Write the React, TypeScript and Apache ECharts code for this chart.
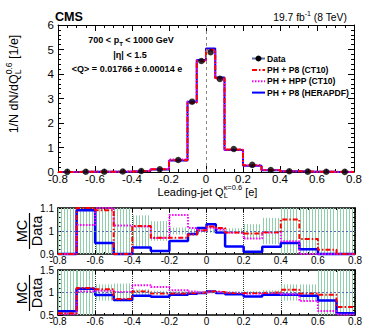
import { useEffect, useRef } from 'react';
import * as echarts from 'echarts';

// ---------- data ----------
const binEdges = [-0.8, -0.7, -0.6, -0.5, -0.4, -0.3, -0.2, -0.1, -0.05, 0, 0.05, 0.1, 0.2, 0.3, 0.4, 0.5, 0.6, 0.7, 0.8];
const dataValues = [0.006, 0.01, 0.012, 0.02, 0.04, 0.11, 0.49, 2.87, 4.53, 4.89, 3.8, 0.94, 0.29, 0.08, 0.03, 0.015, 0.01, 0.006];
const mainCT10 = [0.004, 0.011, 0.012, 0.018, 0.041, 0.108, 0.48, 2.83, 4.52, 4.99, 3.84, 0.92, 0.28, 0.08, 0.031, 0.014, 0.008, 0.005];
const mainHPP = [0.003, 0.011, 0.013, 0.019, 0.045, 0.12, 0.51, 2.88, 4.55, 4.93, 3.8, 0.91, 0.27, 0.079, 0.029, 0.011, 0.005, 0.003];
const mainHERA = [0.005, 0.011, 0.011, 0.018, 0.038, 0.1, 0.47, 2.87, 4.57, 5.04, 3.86, 0.9, 0.26, 0.076, 0.028, 0.013, 0.008, 0.004];

const r1CT10 = [0.9, 1.1, 1.09, 0.9, 1.022, 0.971, 0.971, 0.985, 1.003, 1.02, 1.013, 0.993, 0.989, 0.995, 1.05, 0.965, 0.918, 0.9];
const r1HPP = [0.9, 1.026, 1.1, 1.024, 1.02, 0.97, 1.07, 1.013, 1.0, 1.014, 1.006, 0.993, 0.967, 0.993, 0.955, 0.9, 0.9, 0.9];
const r1HERA = [0.9, 1.09, 0.948, 0.9, 0.928, 0.913, 0.957, 0.987, 1.013, 1.029, 0.993, 0.933, 0.91, 0.932, 0.948, 0.921, 0.9, 0.9];
const r1DataErr = [1, 1, 1, 1, 0.068, 0.043, 0.015, 0.01, 0.008, 0.008, 0.01, 0.012, 0.03, 0.057, 1, 1, 1, 1];

const r2CT10 = [0.54, 1.1, 1.07, 0.857, 1.02, 0.98, 0.98, 0.99, 1.0, 1.02, 1.01, 0.99, 0.99, 1.0, 1.06, 0.98, 0.95, 0.68];
const r2HPP = [0.52, 1.02, 1.04, 1.01, 1.16, 1.12, 1.05, 1.02, 1.0, 1.01, 1.0, 0.99, 0.97, 0.99, 0.96, 0.81, 0.59, 0.51];
const r2HERA = [0.586, 1.086, 0.943, 0.836, 0.929, 0.907, 0.95, 0.97, 0.99, 1.02, 0.99, 0.96, 0.91, 0.95, 0.95, 0.93, 0.82, 0.54];
const r2DataErr = [1, 1, 0.18, 0.2, 0.07, 0.04, 0.03, 0.02, 0.015, 0.015, 0.02, 0.025, 0.03, 0.05, 0.18, 0.18, 1, 1];

const legendLabels = ['Data', 'PH + P8 (CT10)', 'PH + HPP (CT10)', 'PH + P8 (HERAPDF)'];

// ---------- helpers ----------
const FONT = '"Liberation Sans", Arial, Helvetica, sans-serif';
const BLUE = '#0000ff';
const RED = '#ff0000';
const MAG = '#ff00ff';
const HATCH = '#8fcfa9';

let ctx: CanvasRenderingContext2D | null = null;
const measure = (t: string, size: number, weight: string) => {
  if (!ctx) ctx = document.createElement('canvas').getContext('2d');
  ctx!.font = `${weight} ${size}px ${FONT}`;
  return ctx!.measureText(t).width;
};

type Seg = string | { sup?: string; sub?: string };
function textRun(segs: Seg[], size: number, weight: string, anchorX: number, y: number, align: 'left' | 'center' | 'right', fill = '#000') {
  const items: { t: string; x: number; dy: number; size: number }[] = [];
  let cx = 0;
  for (const s of segs) {
    if (typeof s === 'string') {
      items.push({ t: s, x: cx, dy: 0, size });
      cx += measure(s, size, weight);
    } else {
      const small = size * 0.68;
      let w = 0;
      if (s.sup) {
        items.push({ t: s.sup, x: cx, dy: -size * 0.38, size: small });
        w = Math.max(w, measure(s.sup, small, weight));
      }
      if (s.sub) {
        items.push({ t: s.sub, x: cx, dy: size * 0.34, size: small });
        w = Math.max(w, measure(s.sub, small, weight));
      }
      cx += w;
    }
  }
  const off = align === 'left' ? anchorX : align === 'center' ? anchorX - cx / 2 : anchorX - cx;
  return items.map((it) => ({
    type: 'text',
    x: off + it.x,
    y: y + it.dy,
    silent: true,
    style: { text: it.t, fill, font: `${weight} ${it.size}px ${FONT}`, textAlign: 'left', textVerticalAlign: 'middle' },
  }));
}

const stepPoints = (vals: number[]) => {
  const pts: number[][] = [];
  vals.forEach((v, i) => {
    pts.push([binEdges[i], v]);
    pts.push([binEdges[i + 1], v]);
  });
  return pts;
};
const centers = binEdges.slice(0, -1).map((e, i) => (e + binEdges[i + 1]) / 2);

function histo(g: number, vals: number[], color: string, width: number, type: any, z: number, extra: any = {}) {
  return {
    type: 'line',
    xAxisIndex: 2 * g,
    yAxisIndex: 2 * g,
    data: stepPoints(vals),
    showSymbol: false,
    symbol: 'none',
    clip: false,
    silent: true,
    z,
    lineStyle: { color, width, type },
    ...extra,
  };
}

function band(g: number, errs: number[]) {
  return {
    type: 'custom',
    xAxisIndex: 2 * g,
    yAxisIndex: 2 * g,
    silent: true,
    z: 1,
    data: errs.map((h, i) => [binEdges[i], binEdges[i + 1], 1 - h, 1 + h]),
    renderItem: (params: any, api: any) => {
      const cs = params.coordSys;
      const p0 = api.coord([api.value(0), api.value(3)]);
      const p1 = api.coord([api.value(1), api.value(2)]);
      const top = Math.max(Math.min(p0[1], p1[1]), cs.y);
      const bot = Math.min(Math.max(p0[1], p1[1]), cs.y + cs.height);
      const children: any[] = [];
      for (let x = Math.ceil(p0[0]) + 0.5; x < p1[0]; x += 3) {
        children.push({ type: 'line', shape: { x1: x, y1: top, x2: x, y2: bot }, style: { stroke: HATCH, lineWidth: 1 } });
      }
      return { type: 'group', children };
    },
  };
}

const fmtX = (v: number) => (Math.abs(v) < 1e-9 ? '0' : (Math.round(v * 10) / 10).toString());

function xAxesFor(g: number, fontSize: number, tickLen: number, split: boolean, lineW: number) {
  const common = {
    type: 'value',
    gridIndex: g,
    min: -0.8,
    max: 0.8,
    interval: 0.2,
    axisLine: { show: true, onZero: false, lineStyle: { color: '#000', width: lineW } },
    axisTick: { show: true, inside: true, length: tickLen, lineStyle: { color: '#000' } },
    minorTick: { show: true, splitNumber: 4, length: tickLen / 2, lineStyle: { color: '#000' } },
  };
  return [
    {
      ...common,
      position: 'bottom',
      axisLabel: { show: true, margin: 1, fontSize, color: '#000', fontFamily: FONT, formatter: fmtX },
      splitLine: split ? { show: true, lineStyle: { type: 'dotted', color: '#333', width: 1 } } : { show: false },
    },
    { ...common, position: 'top', axisLabel: { show: false }, splitLine: { show: false } },
  ];
}

function yAxesFor(g: number, min: number, max: number, interval: number, minorSplit: number, fontSize: number, tickLen: number, lineW: number, fmt: (v: number) => string) {
  const common = {
    type: 'value',
    gridIndex: g,
    min,
    max,
    interval,
    axisLine: { show: true, onZero: false, lineStyle: { color: '#000', width: lineW } },
    axisTick: { show: true, inside: true, length: tickLen, lineStyle: { color: '#000' } },
    minorTick: { show: true, splitNumber: minorSplit, length: tickLen / 2, lineStyle: { color: '#000' } },
    splitLine: { show: false },
  };
  return [
    { ...common, position: 'left', axisLabel: { show: true, margin: 4, fontSize, color: '#000', fontFamily: FONT, formatter: fmt } },
    { ...common, position: 'right', axisLabel: { show: false } },
  ];
}

// rotated "MC / Data" fraction used as the ratio panels' y title (ROOT style)
function fraction(cy: number) {
  const f = `normal 14.5px ${FONT}`;
  return [
    { type: 'text', x: 22, y: cy, rotation: Math.PI / 2, silent: true, style: { text: 'MC', fill: '#000', font: f, textAlign: 'center', textVerticalAlign: 'middle' } },
    { type: 'line', silent: true, shape: { x1: 29.5, y1: cy - 18, x2: 29.5, y2: cy + 18 }, style: { stroke: '#000', lineWidth: 1.2 } },
    { type: 'text', x: 37, y: cy, rotation: Math.PI / 2, silent: true, style: { text: 'Data', fill: '#000', font: f, textAlign: 'center', textVerticalAlign: 'middle' } },
  ];
}

function legendRow(y: number, label: string, kind: 'data' | 'line', color: string, type: any) {
  const els: any[] = [];
  if (kind === 'data') {
    els.push({ type: 'line', silent: true, shape: { x1: 252, y1: y, x2: 265, y2: y }, style: { stroke: '#5a6cb0', lineWidth: 2 } });
    els.push({ type: 'circle', silent: true, shape: { cx: 258.5, cy: y, r: 3 }, style: { fill: '#000' } });
  } else {
    els.push({ type: 'line', silent: true, shape: { x1: 252, y1: y, x2: 265, y2: y }, style: { stroke: color, lineWidth: 2, lineDash: type } });
  }
  els.push(...textRun([label], 8.6, 'bold', 267, y, 'left'));
  return els;
}

export default function App() {
  const ref = useRef<HTMLDivElement>(null);
  useEffect(() => {
    document.body.style.margin = '0';
    const chart = echarts.init(ref.current!, null, { renderer: 'svg' });

    const graphic: any[] = [
      ...textRun(['CMS'], 12.6, 'bold', 55, 17, 'left'),
      ...textRun(['19.7 fb', { sup: '-1' }, ' (8 TeV)'], 10.3, 'normal', 347, 17, 'right'),
      ...textRun(['700 < p', { sub: 'T' }, ' < 1000 GeV'], 9, 'bold', 131, 40, 'center'),
      ...textRun(['|η| < 1.5'], 9, 'bold', 130, 55, 'center'),
      ...textRun(['<Q> = 0.01766 ± 0.00014 e'], 9, 'bold', 127, 69, 'center'),
      ...legendRow(58.5, legendLabels[0], 'data', '#000', null),
      ...legendRow(70, legendLabels[1], 'line', RED, [5, 2, 1.5, 2]),
      ...legendRow(81.3, legendLabels[2], 'line', MAG, [1.5, 1.5]),
      ...legendRow(92.6, legendLabels[3], 'line', BLUE, null),
      ...textRun(['Leading-jet Q', { sup: 'κ=0.6', sub: 'L' }, ' [e]'], 11, 'normal', 207.5, 192, 'center'),
      {
        type: 'group',
        x: 14,
        y: 84,
        rotation: Math.PI / 2,
        silent: true,
        children: textRun(['1/N dN/dQ', { sup: '0.6', sub: 'L' }, ' [1/e]'], 12.5, 'normal', 0, 0, 'center'),
      },
      ...fraction(231),
      ...fraction(293),
    ];

    const option: any = {
      animation: false,
      backgroundColor: '#fff',
      textStyle: { fontFamily: FONT },
      grid: [
        { left: 58, top: 25, width: 299, height: 147 },
        { left: 58, top: 208, width: 299, height: 46 },
        { left: 58, top: 270, width: 299, height: 46 },
      ],
      xAxis: [
        ...xAxesFor(0, 11.5, 6, false, 1),
        ...xAxesFor(1, 10, 4, true, 1.6),
        ...xAxesFor(2, 10, 4, true, 1.6),
      ],
      yAxis: [
        ...yAxesFor(0, 0, 6, 1, 5, 11.5, 6, 1, (v) => String(Math.round(v))),
        ...yAxesFor(1, 0.9, 1.1, 0.1, 5, 10, 5, 1.6, (v) => String(Math.round(v * 10) / 10)),
        ...yAxesFor(2, 0.5, 1.5, 0.5, 5, 10, 5, 1.6, (v) => String(Math.round(v * 10) / 10)),
      ],
      series: [
        histo(0, mainHERA, BLUE, 2, 'solid', 2, {
          markLine: {
            silent: true,
            symbol: 'none',
            label: { show: false },
            lineStyle: { color: '#888', type: [3, 3], width: 1 },
            data: [{ xAxis: 0 }],
          },
        }),
        histo(0, mainHPP, MAG, 2, [1.5, 1.5], 3),
        histo(0, mainCT10, RED, 2, [5, 2, 1.5, 2], 4),
        {
          type: 'scatter',
          xAxisIndex: 0,
          yAxisIndex: 0,
          data: centers.map((c, i) => [c, dataValues[i]]),
          symbol: 'circle',
          symbolSize: 6.5,
          itemStyle: { color: '#000' },
          silent: true,
          z: 6,
        },
        band(1, r1DataErr),
        histo(1, r1HERA, BLUE, 2.5, 'solid', 2, {
          markLine: {
            silent: true,
            symbol: 'none',
            label: { show: false },
            lineStyle: { color: '#5a6cb0', type: [2, 2], width: 1 },
            data: [{ yAxis: 1 }],
          },
        }),
        histo(1, r1HPP, MAG, 2, [1.5, 1.5], 3),
        histo(1, r1CT10, RED, 2, [5, 2, 1.5, 2], 4),
        band(2, r2DataErr),
        histo(2, r2HERA, BLUE, 2.5, 'solid', 2, {
          markLine: {
            silent: true,
            symbol: 'none',
            label: { show: false },
            lineStyle: { color: '#5a6cb0', type: [2, 2], width: 1 },
            data: [{ yAxis: 1 }],
          },
        }),
        histo(2, r2HPP, MAG, 2, [1.5, 1.5], 3),
        histo(2, r2CT10, RED, 2, [5, 2, 1.5, 2], 4),
      ],
      graphic,
    };
    chart.setOption(option);
    return () => chart.dispose();
  }, []);
  return <div ref={ref} style={{ width: 365, height: 326 }} />;
}
